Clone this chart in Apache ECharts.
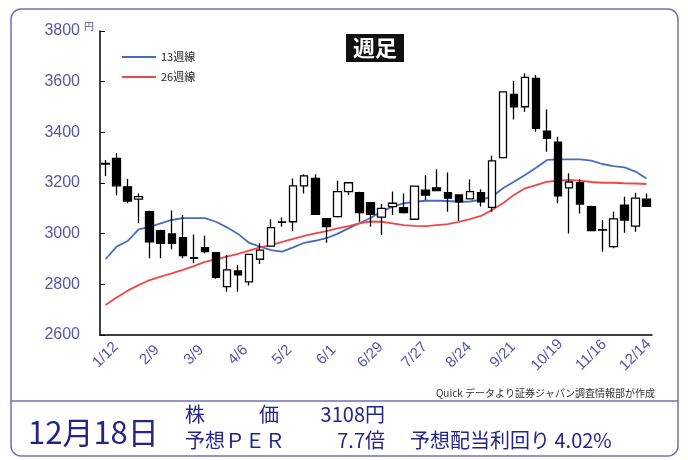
<!DOCTYPE html>
<html><head><meta charset="utf-8">
<script src="https://cdn.jsdelivr.net/npm/echarts@6/dist/echarts.min.js"></script>
<style>html,body{margin:0;padding:0;background:#fff}#c{width:688px;height:460px}</style>
</head><body><div id="c"></div>
<script>
const dates = ['1/12','1/19','1/26','2/2','2/9','2/16','2/23','3/2','3/9','3/16','3/23','3/30','4/6','4/13','4/20','4/27','5/2','5/11','5/18','5/25','6/1','6/8','6/15','6/22','6/29','7/6','7/13','7/20','7/27','8/3','8/10','8/17','8/24','8/31','9/7','9/14','9/21','9/28','10/5','10/12','10/19','10/26','11/2','11/9','11/16','11/22','11/30','12/7','12/14','12/18'];
const openP  = [3275,3297,3185,3136,3087,3012,2999,2984,2905,2945,2925,2791,2853,2810,2899,2951,3045,3047,3189,3218,3059,3067,3166,3162,3122,3065,3107,3103,3057,3172,3181,3162,3153,3137,3162,3104,3300,3550,3501,3613,3405,3361,3181,3201,3107,3016,2949,3113,3030,3136];
const closeP = [3277,3189,3129,3146,2968,2962,2962,2913,2903,2929,2828,2857,2837,2918,2935,3024,3046,3189,3228,3076,3028,3166,3201,3083,3076,3100,3120,3083,3188,3152,3170,3140,3126,3166,3126,3287,3560,3501,3617,3416,3376,3149,3204,3117,3012,3014,3058,3054,3140,3108];
const lowP   = [3228,3152,3120,3041,2903,2903,2938,2903,2883,2922,2822,2771,2771,2795,2880,2948,3027,3011,3159,3074,2964,3064,3153,3047,3027,2995,3074,3080,3055,3133,3168,3087,3050,3135,3107,3087,3298,3451,3481,3402,3323,3120,3001,3080,3010,2929,2942,3004,3008,3108];
const highP  = [3291,3317,3216,3159,3090,3015,3091,3074,2997,2992,2928,2916,2876,2920,2962,3057,3064,3218,3235,3235,3060,3209,3203,3165,3124,3117,3166,3159,3190,3232,3254,3241,3155,3214,3175,3308,3562,3604,3633,3626,3491,3383,3238,3214,3110,3054,3087,3146,3162,3159];
const ma13 = [2899,2949,2971,3017,3027,3041,3054,3061,3061,3061,3047,3025,2999,2964,2949,2935,2929,2946,2964,2972,2982,2999,3021,3041,3062,3087,3107,3120,3126,3130,3130,3129,3126,3127,3133,3146,3179,3205,3232,3260,3291,3293,3293,3293,3288,3275,3267,3262,3245,3218];
const ma26 = [2718,2748,2775,2797,2817,2830,2843,2857,2872,2889,2899,2909,2920,2933,2946,2955,2968,2979,2991,3001,3010,3021,3030,3041,3048,3047,3041,3034,3031,3030,3034,3038,3047,3057,3070,3093,3120,3153,3179,3192,3205,3209,3212,3209,3204,3201,3201,3199,3198,3196];
const yTicks = [2600,2800,3000,3200,3400,3600,3800];

const candles = dates.map((d,i)=>[openP[i],closeP[i],lowP[i],highP[i]]);
const navy = '#24248a';
const axisBlue = '#5656a8';
const chart = echarts.init(document.getElementById('c'));
chart.setOption({
  animation:false,
  backgroundColor:'#fff',
  grid:{left:100,right:36,top:31,bottom:125},
  legend:{
    data:['13週線','26週線'], orient:'vertical', left:117, top:45,
    icon:'rect', itemWidth:34, itemHeight:2, itemGap:6,
    textStyle:{fontSize:11,color:'#222',lineHeight:14,fontFamily:'Noto Sans CJK JP'}
  },
  xAxis:{
    type:'category', data:dates, boundaryGap:true,
    axisLine:{lineStyle:{color:'#000',width:1.5}},
    axisTick:{inside:true,length:5,interval:0,lineStyle:{color:'#000'}},
    axisLabel:{interval:3,rotate:45,align:'center',verticalAlign:'middle',color:axisBlue,fontSize:15,fontFamily:'Liberation Sans',margin:20},
    splitLine:{show:false}
  },
  yAxis:{
    type:'value', min:yTicks[0], max:yTicks[yTicks.length-1], interval:200,
    axisLine:{show:true,lineStyle:{color:'#000',width:1.5}},
    axisTick:{show:true,inside:true,length:5,lineStyle:{color:'#000'}},
    axisLabel:{color:axisBlue,fontSize:16,fontFamily:'Liberation Sans',margin:20,formatter:v=>String(v)},
    splitLine:{show:false}
  },
  series:[
    {name:'週足',type:'candlestick',data:candles,barWidth:8,
     itemStyle:{color:'#fff',color0:'#000',borderColor:'#000',borderColor0:'#000',borderWidth:1.3}},
    {name:'13週線',type:'line',data:ma13,symbol:'none',smooth:false,
     lineStyle:{color:'#4a6cc0',width:1.8},itemStyle:{color:'#4a6cc0'},z:1},
    {name:'26週線',type:'line',data:ma26,symbol:'none',smooth:false,
     lineStyle:{color:'#f04848',width:1.8},itemStyle:{color:'#f04848'},z:1}
  ],
  graphic:[
    {type:'rect',shape:{x:11,y:9,width:667,height:447,r:10},style:{fill:'none',stroke:'#7070b4',lineWidth:1.5},silent:true},
    {type:'line',shape:{x1:11,y1:401,x2:678,y2:401},style:{stroke:'#7070b4',lineWidth:1.5}},
    {type:'rect',shape:{x:346,y:34,width:58,height:28},style:{fill:'#111'}},
    {type:'text',x:375,y:48,style:{text:'週足',fill:'#fff',font:'bold 22px "Noto Sans CJK JP"',textAlign:'center',textVerticalAlign:'middle'}},
    {type:'text',x:84,y:21,style:{text:'円',fill:axisBlue,font:'10px "Noto Sans CJK JP"'}},
    {type:'text',x:655,y:393,style:{text:'Quick データより証券ジャパン調査情報部が作成',fill:'#333',font:'10px "Noto Sans CJK JP"',textAlign:'right',textVerticalAlign:'middle'}},
    {type:'text',x:28,y:432,style:{text:'12月18日',fill:navy,font:'31px "Noto Sans CJK JP"',textVerticalAlign:'middle'}},
    {type:'text',x:185,y:414,style:{text:'株',fill:navy,font:'20px "Noto Sans CJK JP"',textVerticalAlign:'middle'}},
    {type:'text',x:259,y:414,style:{text:'価',fill:navy,font:'20px "Noto Sans CJK JP"',textVerticalAlign:'middle'}},
    {type:'text',x:385,y:414,style:{text:'3108円',fill:navy,font:'20px "Noto Sans CJK JP"',textAlign:'right',textVerticalAlign:'middle'}},
    {type:'text',x:185,y:440,style:{text:'予想ＰＥＲ',fill:navy,font:'20px "Noto Sans CJK JP"',textVerticalAlign:'middle'}},
    {type:'text',x:385,y:440,style:{text:'7.7倍',fill:navy,font:'20px "Noto Sans CJK JP"',textAlign:'right',textVerticalAlign:'middle'}},
    {type:'text',x:410,y:440,style:{text:'予想配当利回り 4.02%',fill:navy,font:'20px "Noto Sans CJK JP"',textVerticalAlign:'middle'}}
  ]
});
</script></body></html>
